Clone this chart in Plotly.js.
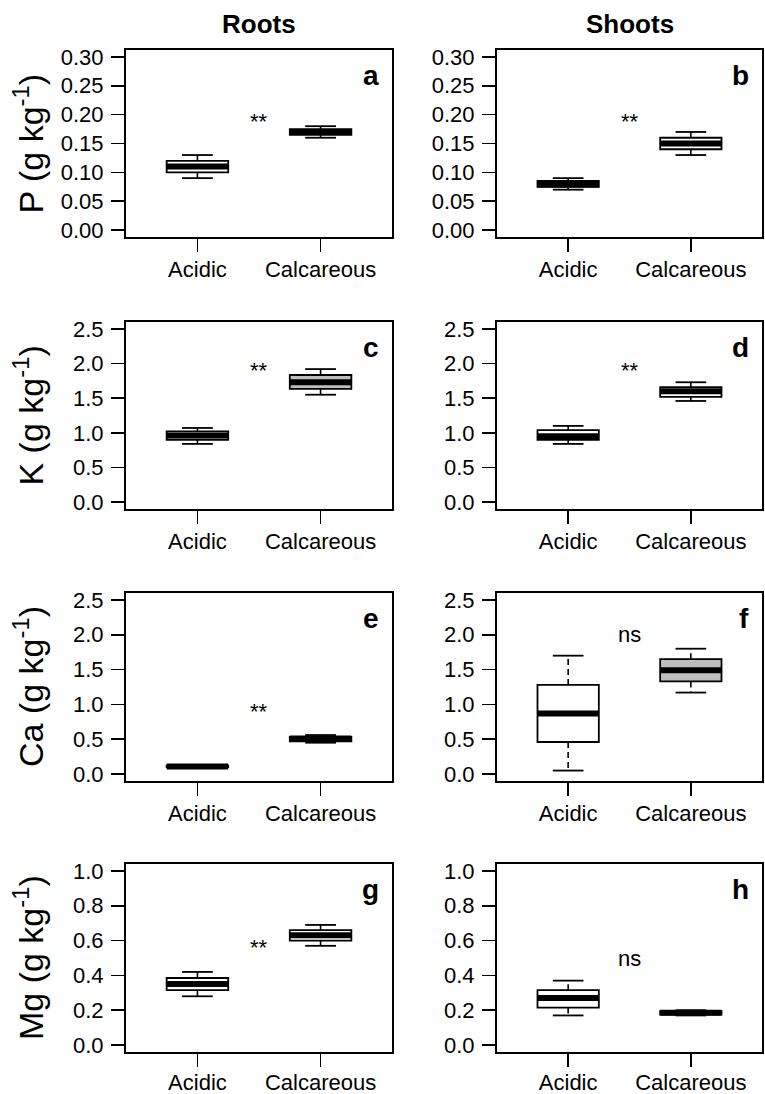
<!DOCTYPE html>
<html><head><meta charset="utf-8">
<script src="https://cdn.plot.ly/plotly-3.0.1.min.js"></script>
<style>html,body{margin:0;padding:0;background:#fff}#chart{width:765px;height:1094px}</style>
</head><body><div id="chart"></div>
<script>
// ---------------- data ----------------
const groups = ['Acidic', 'Calcareous'];
const groupPos = [1, 2];
const tissues = ['Roots', 'Shoots'];
const nutrients = ['P', 'K', 'Ca', 'Mg'];
const panelLetters = ['a', 'b', 'c', 'd', 'e', 'f', 'g', 'h'];

// five-number summaries, order [Acidic, Calcareous]
const P_roots   = {lower:[0.09, 0.16],  q1:[0.10, 0.165],  median:[0.11, 0.17],  q3:[0.12, 0.175],  upper:[0.13, 0.18]};
const P_shoots  = {lower:[0.07, 0.13],  q1:[0.075, 0.14],  median:[0.079, 0.15], q3:[0.085, 0.16],  upper:[0.09, 0.17]};
const K_roots   = {lower:[0.84, 1.55],  q1:[0.90, 1.635],  median:[0.96, 1.73],  q3:[1.02, 1.835],  upper:[1.07, 1.92]};
const K_shoots  = {lower:[0.84, 1.46],  q1:[0.90, 1.52],   median:[0.95, 1.60],  q3:[1.04, 1.66],   upper:[1.10, 1.73]};
const Ca_roots  = {lower:[0.10, 0.45],  q1:[0.10, 0.47],   median:[0.11, 0.51],  q3:[0.12, 0.535],  upper:[0.12, 0.56]};
const Ca_shoots = {lower:[0.05, 1.17],  q1:[0.46, 1.33],   median:[0.87, 1.49],  q3:[1.28, 1.65],   upper:[1.70, 1.80]};
const Mg_roots  = {lower:[0.28, 0.57],  q1:[0.315, 0.60],  median:[0.35, 0.63],  q3:[0.385, 0.66],  upper:[0.42, 0.69]};
const Mg_shoots = {lower:[0.17, 0.17],  q1:[0.215, 0.175], median:[0.27, 0.185], q3:[0.315, 0.195], upper:[0.37, 0.20]};

const signifText = ['**', '**', '**', '**', '**', 'ns', '**', 'ns'];
const signifY    = [0.20, 0.20, 2.0, 2.0, 1.0, 2.0, 0.6, 0.5];

// y axis scales per nutrient row
const yMax   = [0.30, 2.5, 2.5, 1.0];
const yStep  = [0.05, 0.5, 0.5, 0.2];
const yFmt   = ['.2f', '.1f', '.1f', '.1f'];

// ---------------- style / layout ----------------
const panelStats = [P_roots, P_shoots, K_roots, K_shoots, Ca_roots, Ca_shoots, Mg_roots, Mg_shoots];
const boxFill = [['white','white'],['white','white'],['white','#bebebe'],['white','white'],
                 ['white','white'],['white','#bebebe'],['white','white'],['white','white']];
const W = 765, H = 1094;
const colPx = [[126, 392], [497, 762]];
const rowPx = [[50, 237], [322, 509], [593, 781], [864, 1052]];
const FONT = 'Liberation Sans, Arial, Helvetica, sans-serif';
const BOXW = 0.5;

const traces = [];
const layout = {
  width: W, height: H,
  margin: {l:0, r:0, t:0, b:0},
  paper_bgcolor: 'white', plot_bgcolor: 'white',
  showlegend: false,
  font: {family: FONT, color: 'black'},
  annotations: []
};

for (let i = 0; i < 8; i++) {
  const row = Math.floor(i / 2), col = i % 2;
  const xa = i === 0 ? 'x' : 'x' + (i + 1);
  const ya = i === 0 ? 'y' : 'y' + (i + 1);
  const xKey = i === 0 ? 'xaxis' : 'xaxis' + (i + 1);
  const yKey = i === 0 ? 'yaxis' : 'yaxis' + (i + 1);
  const s = panelStats[i];

  for (let g = 0; g < groups.length; g++) {
    const p = groupPos[g];
    traces.push({
      type: 'box', x: [p], name: groups[g],
      q1: [s.q1[g]], median: [s.median[g]], q3: [s.q3[g]],
      lowerfence: [s.q1[g]], upperfence: [s.q3[g]],
      width: BOXW, whiskerwidth: 0, boxpoints: false,
      fillcolor: boxFill[i][g], line: {color: 'black', width: 1.8},
      xaxis: xa, yaxis: ya, hoverinfo: 'skip'
    });
    // whiskers (dashed)
    traces.push({
      type: 'scatter', mode: 'lines', xaxis: xa, yaxis: ya, hoverinfo: 'skip',
      x: [p, p, null, p, p],
      y: [s.q3[g], s.upper[g], null, s.q1[g], s.lower[g]],
      line: {color: 'black', width: 1.6, dash: '6px,4px'}
    });
    // staples
    traces.push({
      type: 'scatter', mode: 'lines', xaxis: xa, yaxis: ya, hoverinfo: 'skip',
      x: [p - BOXW/4, p + BOXW/4, null, p - BOXW/4, p + BOXW/4],
      y: [s.upper[g], s.upper[g], null, s.lower[g], s.lower[g]],
      line: {color: 'black', width: 1.8}
    });
    // thick median
    traces.push({
      type: 'scatter', mode: 'lines', xaxis: xa, yaxis: ya, hoverinfo: 'skip',
      x: [p - BOXW/2, p + BOXW/2],
      y: [s.median[g], s.median[g]],
      line: {color: 'black', width: 6}
    });
  }

  const axCommon = {
    showline: true, mirror: true, linecolor: 'black', linewidth: 2,
    ticks: 'outside', ticklen: 13, tickwidth: 1.5, tickcolor: 'black',
    showgrid: false, zeroline: false, fixedrange: true,
    tickfont: {family: FONT, size: 22, color: 'black'}
  };
  layout[xKey] = Object.assign({}, axCommon, {
    domain: [colPx[col][0] / W, colPx[col][1] / W],
    anchor: ya, range: [0.42, 2.58],
    tickmode: 'array', tickvals: groupPos, ticktext: groups,
    ticklabelstandoff: row === 3 ? -3 : -1
  });
  const m = yMax[row];
  layout[yKey] = Object.assign({}, axCommon, {
    domain: [1 - rowPx[row][1] / H, 1 - rowPx[row][0] / H],
    anchor: xa, range: [-0.04 * m, 1.04 * m],
    tickmode: 'linear', tick0: 0, dtick: yStep[row], tickformat: yFmt[row],
    ticklabelstandoff: 3
  });

  // panel letter
  layout.annotations.push({
    text: '<b>' + panelLetters[i] + '</b>', showarrow: false,
    xref: xa + ' domain', yref: ya + ' domain', x: 1, y: 1,
    xanchor: 'right', yanchor: 'middle', xshift: -11, yshift: -25,
    font: {family: FONT, size: 28, color: 'black'}
  });
  // significance mark
  layout.annotations.push({
    text: signifText[i], showarrow: false,
    xref: xa, yref: ya, x: (groupPos[0] + groupPos[1]) / 2, y: signifY[i],
    xanchor: 'center', yanchor: 'middle', yshift: signifText[i] === '**' ? -7 : 0,
    font: {family: FONT, size: 22, color: 'black'}
  });
}

// row y-axis titles
for (let r = 0; r < 4; r++) {
  layout.annotations.push({
    text: nutrients[r] + ' (g kg<sup>-1</sup>)', showarrow: false, textangle: -90,
    xref: 'paper', yref: 'paper', x: 28 / W, y: 1 - (rowPx[r][0] + rowPx[r][1]) / 2 / H,
    xanchor: 'center', yanchor: 'middle',
    font: {family: FONT, size: 34, color: 'black'}
  });
}
// column titles
for (let c = 0; c < 2; c++) {
  layout.annotations.push({
    text: '<b>' + tissues[c] + '</b>', showarrow: false,
    xref: 'paper', yref: 'paper', x: (colPx[c][0] + colPx[c][1]) / 2 / W, y: 1 - 24 / H,
    xanchor: 'center', yanchor: 'middle',
    font: {family: FONT, size: 26, color: 'black'}
  });
}

Plotly.newPlot('chart', traces, layout, {staticPlot: true, displayModeBar: false});
</script>
</body></html>
